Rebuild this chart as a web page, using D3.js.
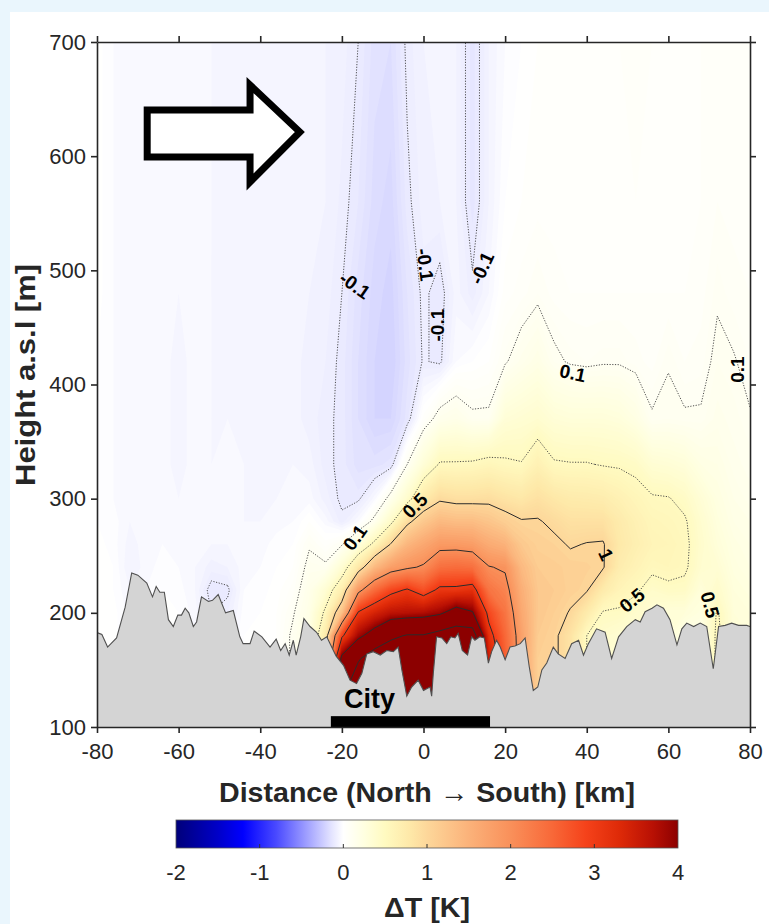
<!DOCTYPE html>
<html><head><meta charset="utf-8">
<script src="https://cdn.jsdelivr.net/npm/d3@7"></script>
<style>body{margin:0;background:#eaf6fd} svg{display:block}</style>
</head><body><svg id="c" width="769" height="924"></svg>
<script>
// ---------------- DATA ----------------
const distanceKm = [-80,-76,-72,-68,-64,-60,-56,-52,-48,-44,-40,-36,-32,-28,-24,-20,-16,-12,-8,-4,0,4,8,12,16,20,24,28,32,36,40,44,48,52,56,60,64,68,72,76,80];
const heightsM = [120,140,160,180,200,220,240,260,280,300,330,370,420,480,560,700];
// vertical profiles of ΔT [K], one per distance (values at heightsM)
const deltaTProfiles = [
 [0.02,0.02,0.02,0.02,0.02,0.02,0.01,0.01,0.00,0.00,0.00,0.00,0.00,0.01,0.01,0.01],   // -80
 [0.01,0.01,0.01,0.01,0.01,0.00,0.00,-0.01,-0.01,-0.02,-0.02,-0.02,-0.02,-0.02,-0.02,-0.02], // -76
 [-0.03,-0.03,-0.03,-0.03,-0.03,-0.04,-0.06,-0.05,-0.04,-0.04,-0.04,-0.04,-0.04,-0.04,-0.04,-0.03], // -72
 [-0.02,-0.02,-0.02,-0.02,-0.02,-0.02,-0.03,-0.03,-0.03,-0.03,-0.03,-0.03,-0.02,-0.02,-0.02,-0.02], // -68
 [0.00,0.00,0.00,0.00,0.00,0.00,-0.01,-0.02,-0.02,-0.03,-0.03,-0.03,-0.03,-0.03,-0.03,-0.03], // -64
 [0.00,0.00,0.00,0.00,0.00,-0.01,-0.02,-0.03,-0.04,-0.04,-0.05,-0.05,-0.05,-0.04,-0.04,-0.04], // -60
 [-0.02,-0.02,-0.02,-0.02,-0.03,-0.04,-0.04,-0.03,-0.03,-0.03,-0.03,-0.03,-0.03,-0.03,-0.03,-0.03], // -56
 [-0.10,-0.10,-0.10,-0.10,-0.10,-0.12,-0.07,-0.04,-0.03,-0.03,-0.04,-0.04,-0.04,-0.04,-0.04,-0.04], // -52
 [-0.06,-0.06,-0.06,-0.06,-0.08,-0.11,-0.06,-0.04,-0.03,-0.03,-0.03,-0.04,-0.04,-0.04,-0.04,-0.04], // -48
 [0.00,0.00,0.00,0.00,-0.01,-0.02,-0.03,-0.03,-0.04,-0.04,-0.04,-0.05,-0.05,-0.05,-0.05,-0.04], // -44
 [0.00,0.00,0.00,0.00,0.00,-0.01,-0.02,-0.03,-0.04,-0.05,-0.05,-0.06,-0.06,-0.06,-0.05,-0.05], // -40
 [0.02,0.02,0.02,0.02,0.02,0.01,0.00,-0.01,-0.03,-0.04,-0.05,-0.06,-0.06,-0.06,-0.06,-0.05], // -36
 [0.12,0.12,0.12,0.12,0.09,0.05,0.02,0.00,-0.02,-0.03,-0.04,-0.05,-0.05,-0.05,-0.05,-0.04], // -32
 [0.22,0.22,0.22,0.22,0.20,0.17,0.13,0.09,0.02,-0.03,-0.05,-0.07,-0.07,-0.06,-0.06,-0.05], // -28
 [0.90,0.90,0.90,0.75,0.55,0.35,0.12,0.03,-0.03,-0.07,-0.09,-0.09,-0.08,-0.07,-0.06,-0.06], // -24
 [4.50,4.50,4.20,2.90,1.30,0.70,0.35,0.09,-0.09,-0.11,-0.11,-0.11,-0.11,-0.10,-0.085,-0.07], // -20
 [5.50,5.50,4.90,3.85,3.05,1.85,0.78,0.28,-0.02,-0.11,-0.15,-0.16,-0.16,-0.15,-0.12,-0.10], // -16
 [5.50,5.50,5.50,4.30,3.40,2.45,1.40,0.56,0.14,-0.03,-0.15,-0.20,-0.20,-0.19,-0.17,-0.15], // -12
 [5.60,5.60,5.60,4.85,3.65,2.85,1.77,1.02,0.43,0.15,-0.13,-0.20,-0.22,-0.21,-0.19,-0.16], // -8
 [6.00,6.00,6.00,5.05,3.70,3.05,1.93,1.44,0.92,0.40,0.10,-0.13,-0.15,-0.14,-0.11,-0.09], // -4
 [6.00,6.00,6.00,5.05,3.75,2.75,2.05,1.65,1.20,0.75,0.32,0.03,-0.095,-0.09,-0.07,-0.06], // 0
 [5.50,5.50,5.50,5.30,3.90,3.10,2.40,1.85,1.40,0.95,0.52,0.15,-0.11,-0.12,-0.06,-0.05], // 4
 [5.50,5.50,5.50,5.50,4.30,3.10,2.45,1.85,1.35,0.90,0.52,0.18,-0.02,-0.05,-0.06,-0.06], // 8
 [5.50,5.50,5.50,5.50,4.05,3.20,2.40,1.80,1.35,0.90,0.53,0.12,0.00,-0.09,-0.13,-0.13], // 12
 [3.50,3.50,3.50,3.20,2.85,2.35,2.02,1.60,1.25,0.92,0.57,0.12,0.02,-0.04,-0.06,-0.06], // 16
 [2.60,2.60,2.60,2.50,2.35,2.15,1.95,1.50,1.12,0.85,0.53,0.32,0.09,0.03,0.00,-0.02], // 20
 [1.75,1.75,1.75,1.75,1.65,1.55,1.40,1.20,1.02,0.80,0.51,0.35,0.15,0.05,0.02,0.00], // 24
 [1.10,1.10,1.10,1.15,1.20,1.20,1.15,1.08,1.02,0.88,0.65,0.38,0.20,0.08,0.03,0.02], // 28
 [1.05,1.05,1.05,1.05,1.10,1.15,1.12,1.05,0.95,0.80,0.52,0.32,0.12,0.05,0.03,0.02], // 32
 [0.85,0.85,0.85,0.85,0.98,1.08,1.08,0.98,0.88,0.75,0.51,0.30,0.09,0.04,0.03,0.03], // 36
 [0.50,0.50,0.50,0.50,0.75,1.02,1.06,1.01,0.88,0.74,0.51,0.30,0.08,0.04,0.03,0.04], // 40
 [0.40,0.40,0.40,0.40,0.48,0.75,1.02,1.02,0.88,0.72,0.49,0.30,0.09,0.04,0.04,0.04], // 44
 [0.35,0.35,0.35,0.35,0.47,0.60,0.72,0.78,0.75,0.65,0.48,0.28,0.09,0.04,0.04,0.04], // 48
 [0.40,0.40,0.40,0.40,0.40,0.53,0.62,0.68,0.65,0.58,0.45,0.22,0.07,0.04,0.04,0.05], // 52
 [0.35,0.35,0.35,0.35,0.35,0.42,0.54,0.60,0.57,0.52,0.35,0.11,0.05,0.04,0.04,0.04], // 56
 [0.30,0.30,0.30,0.30,0.30,0.46,0.56,0.58,0.55,0.51,0.33,0.12,0.095,0.04,0.03,0.03], // 60
 [0.20,0.20,0.20,0.20,0.30,0.45,0.53,0.54,0.52,0.45,0.30,0.11,0.06,0.04,0.04,0.04], // 64
 [0.20,0.20,0.20,0.20,0.25,0.30,0.38,0.40,0.38,0.33,0.22,0.11,0.07,0.05,0.04,0.04], // 68
 [0.55,0.55,0.55,0.55,0.52,0.42,0.35,0.30,0.27,0.24,0.20,0.15,0.12,0.09,0.06,0.05], // 72
 [0.30,0.30,0.30,0.30,0.30,0.28,0.25,0.23,0.20,0.18,0.15,0.13,0.105,0.07,0.05,0.05], // 76
 [0.30,0.30,0.30,0.30,0.28,0.25,0.22,0.20,0.18,0.15,0.13,0.105,0.08,0.06,0.05,0.05]  // 80
];
const terrainKm = [-80,-79.5,-78.8,-77.4,-75.2,-73.1,-71.5,-70,-67.8,-66.4,-65.5,-64.6,-63.5,-62.5,-61.3,-60.2,-59.3,-58.4,-57.5,-56.4,-55.6,-54.4,-52.7,-51.7,-50.3,-48.5,-46.6,-45,-44.2,-42.5,-41.5,-39.6,-37.6,-36.1,-35,-33.9,-32.9,-31.9,-31.2,-30.1,-29.3,-27.8,-26.2,-25,-23.7,-22.5,-21.4,-19.6,-18,-16.4,-15.1,-13.9,-12.3,-10.6,-9,-7.4,-6.2,-5.3,-4.1,-2.9,-1.3,0,1.6,2.0,2.4,3.2,4.5,5.7,6.7,7.7,8.5,9.5,10.8,11.8,12.6,13.8,14.9,15.9,16.7,17.9,18.8,20,21.2,22.4,23.7,24.9,25.9,26.9,28,29,30.2,31.8,33,34.7,36.3,38,39.2,40.4,42.4,44.5,46.1,47.8,49.8,51.9,53.1,54.3,56,57.2,58.8,60.4,62.1,63.3,64.5,66.2,67.8,69.4,71,72.3,73.9,75.5,77.2,79.2,80];
const terrainM = [183,182,181,170,178,205,235,233,226,214,223,218,218,194,188,198,198,204,200,188,192,214,210,211,216,200,202,179,173,173,184,179,170,177,167,173,163,176,163,179,195,188,183,176,179,170,162,154,141,138,147,164,166,163,167,166,170,150,127,135,141,132,135,127,147,179,178,173,179,178,182,167,163,179,176,179,178,156,166,176,170,159,170,171,173,178,153,132,135,150,156,170,164,160,173,176,163,173,186,183,160,179,188,194,192,201,204,207,204,194,172,186,191,188,191,188,151,188,189,191,189,189,188];
const cmapValues = [-2,-1.5,-1.2,-0.8,-0.4,-0.15,0,0.25,0.5,0.8,1.0,1.5,2.0,2.5,2.9,3.3,3.7,4];
const cmapColors = ["#00007a","#0000c8","#0000ff","#4a4aff","#a8a8ff","#e2e2ff","#ffffff","#ffffe0","#fffac0","#fee8a8","#fdd79a","#fbb27a","#f9905a","#f86838","#f5421a","#de2a08","#b81004","#8c0000"];
const dottedLevels = [-0.1, 0.1, 0.5];
const solidLevels = [1, 2, 3, 4, 5];
const xTicks = [-80,-60,-40,-20,0,20,40,60,80];
const yTicks = [100,200,300,400,500,600,700];
const cbTicks = [-2,-1,0,1,2,3,4];
const contourLabels = [
 {km:-16.8, m:487, text:"-0.1", angle:35},
 {km:0.4, m:505, text:"-0.1", angle:82},
 {km:3.3, m:452, text:"-0.1", angle:-90},
 {km:14.3, m:502, text:"-0.1", angle:-65},
 {km:-16.8, m:266, text:"0.1", angle:-55},
 {km:-2.1, m:294, text:"0.5", angle:-45},
 {km:36.6, m:410, text:"0.1", angle:12},
 {km:76.8, m:413, text:"0.1", angle:-90},
 {km:44.7, m:251, text:"1", angle:65},
 {km:51.1, m:211, text:"0.5", angle:-40},
 {km:70.2, m:207, text:"0.5", angle:75}
];
const arrowKm = [-67.7,-42.5,-42.5,-30.3,-42.5,-42.5,-67.7];
const arrowM  = [640.4,640.4,662.3,621.2,577.4,599.3,599.3];
const cityKm = [-22.7, 16.3];

// ---------------- DRAW ----------------
const W=769,H=924;
const FONT='"Liberation Sans", Arial, Helvetica, sans-serif';
const svg=d3.select('#c');
svg.append('rect').attr('width',W).attr('height',H).attr('fill','#eaf6fd');
svg.append('rect').attr('x',10).attr('y',12).attr('width',W-10).attr('height',H-12).attr('fill','#ffffff');

const m={l:97,r:750,t:42,b:727};
const x=d3.scaleLinear().domain([-80,80]).range([m.l,m.r]);
const y=d3.scaleLinear().domain([100,700]).range([m.b,m.t]);
const color=d3.scaleLinear().domain(cmapValues).range(cmapColors).clamp(true);

const nx=distanceKm.length, ny=heightsM.length;
const values=new Array(nx*ny);
for(let j=0;j<ny;j++) for(let i=0;i<nx;i++) values[j*nx+i]=deltaTProfiles[i][j];
const colIdx=d3.scaleLinear().domain(d3.range(nx)).range(distanceKm);
const rowIdx=d3.scaleLinear().domain(d3.range(ny)).range(heightsM);
const proj=d3.geoTransform({point(px,py){this.stream.point(x(colIdx(px-0.5)), y(rowIdx(py-0.5)));}});
const path=d3.geoPath(proj);

const defs=svg.append('defs');
defs.append('clipPath').attr('id','clip').append('rect')
  .attr('x',m.l).attr('y',m.t).attr('width',m.r-m.l).attr('height',m.b-m.t);

const plot=svg.append('g').attr('clip-path','url(#clip)');
const bandT=[...d3.range(-0.3,1,0.02), ...d3.range(1,4.25,0.05)];
plot.append('rect').attr('x',m.l).attr('y',m.t).attr('width',m.r-m.l).attr('height',m.b-m.t).attr('fill',color(-0.3));
const bands=d3.contours().size([nx,ny]).thresholds(bandT)(values);
plot.selectAll('path.band').data(bands).join('path').attr('class','band')
  .attr('d',path)
  .attr('fill',(d,i)=>color(i+1<bandT.length ? (bandT[i]+bandT[i+1])/2 : bandT[i]+0.05));

const lineData=d3.contours().size([nx,ny]).thresholds([...dottedLevels,...solidLevels])(values);
plot.selectAll('path.cl').data(lineData).join('path').attr('class','cl')
  .attr('d',path).attr('fill','none')
  .attr('stroke',d=>d.value<1?'#3c3c3c':'#2b2b2b')
  .attr('stroke-width',d=>d.value<1?0.9:1.0)
  .attr('stroke-dasharray',d=>d.value<1?'1.2,1.5':null);

// terrain
const terr=terrainKm.map((k,i)=>[k,terrainM[i]]);
const line=d3.line().x(d=>x(d[0])).y(d=>y(d[1]));
plot.append('path').datum([[-80,100],...terr,[80,100]]).attr('d',line).attr('fill','#d4d4d4');
plot.append('path').datum(terr).attr('d',line).attr('fill','none').attr('stroke','#505050').attr('stroke-width',1.1);

// city bar
plot.append('rect').attr('x',x(cityKm[0])).attr('width',x(cityKm[1])-x(cityKm[0]))
  .attr('y',y(109.5)).attr('height',y(100)-y(109.5)).attr('fill','#000');
svg.append('text').attr('x',x(-13.2)).attr('y',708).attr('text-anchor','middle')
  .attr('font-family',FONT).attr('font-weight','bold').attr('font-size',27).text('City');

// contour labels
svg.selectAll('text.clab').data(contourLabels).join('text').attr('class','clab')
  .attr('transform',d=>`translate(${x(d.km)},${y(d.m)}) rotate(${d.angle})`)
  .attr('text-anchor','middle').attr('dy','0.35em')
  .attr('font-family',FONT).attr('font-weight','bold').attr('font-size',19)
  .text(d=>d.text);

// arrow
svg.append('path').datum(arrowKm.map((k,i)=>[k,arrowM[i]]))
  .attr('d',d=>line(d)+'Z').attr('fill','#fff').attr('stroke','#000')
  .attr('stroke-width',7).attr('stroke-linejoin','miter');

// axes
function styleAxis(g){
  g.selectAll('.domain').attr('stroke','#262626').attr('stroke-width',1.6);
  g.selectAll('.tick line').attr('stroke','#262626').attr('stroke-width',1.6);
  g.selectAll('.tick text').attr('fill','#262626').attr('font-family',FONT).attr('font-size',22);
}
const fmt=d=>String(d);
svg.append('g').attr('transform',`translate(0,${m.b})`)
  .call(d3.axisBottom(x).tickValues(xTicks).tickSize(6).tickSizeOuter(0).tickPadding(10).tickFormat(fmt)).call(styleAxis);
svg.append('g').attr('transform',`translate(0,${m.t})`)
  .call(d3.axisTop(x).tickValues(xTicks).tickSize(6).tickSizeOuter(0).tickFormat(()=>'')).call(styleAxis);
svg.append('g').attr('transform',`translate(${m.l},0)`)
  .call(d3.axisLeft(y).tickValues(yTicks).tickSize(6).tickSizeOuter(0).tickPadding(5).tickFormat(fmt)).call(styleAxis);
svg.append('g').attr('transform',`translate(${m.r},0)`)
  .call(d3.axisRight(y).tickValues(yTicks).tickSize(6).tickSizeOuter(0).tickFormat(()=>'')).call(styleAxis);

svg.append('text').attr('x',427).attr('y',802).attr('text-anchor','middle')
  .attr('font-family',FONT).attr('font-weight','bold').attr('font-size',28).attr('fill','#262626')
  .attr('textLength',416).attr('lengthAdjust','spacingAndGlyphs')
  .text('Distance (North \u2192 South) [km]');
svg.append('text').attr('transform','translate(35,375) rotate(-90)').attr('text-anchor','middle')
  .attr('font-family',FONT).attr('font-weight','bold').attr('font-size',28).attr('fill','#262626')
  .attr('textLength',222).attr('lengthAdjust','spacingAndGlyphs')
  .text('Height a.s.l [m]');

// colorbar
const cb={l:176,r:678,t:820,b:848};
const cx=d3.scaleLinear().domain([-2,4]).range([cb.l,cb.r]);
const grad=defs.append('linearGradient').attr('id','cbg').attr('x1','0%').attr('x2','100%');
cmapValues.forEach((v,i)=>grad.append('stop').attr('offset',((v+2)/6*100)+'%').attr('stop-color',cmapColors[i]));
svg.append('rect').attr('x',cb.l).attr('y',cb.t).attr('width',cb.r-cb.l).attr('height',cb.b-cb.t)
  .attr('fill','url(#cbg)').attr('stroke','#555').attr('stroke-width',0.8);
svg.selectAll('line.cbt').data(cbTicks.slice(1,-1)).join('line').attr('class','cbt')
  .attr('x1',d=>cx(d)).attr('x2',d=>cx(d)).attr('y1',cb.b).attr('y2',cb.b-4)
  .attr('stroke','#333').attr('stroke-width',1);
svg.selectAll('text.cbl').data(cbTicks).join('text').attr('class','cbl')
  .attr('x',d=>cx(d)).attr('y',880).attr('text-anchor','middle')
  .attr('font-family',FONT).attr('font-size',22).attr('fill','#262626').text(d=>String(d));
svg.append('text').attr('x',427).attr('y',917).attr('text-anchor','middle')
  .attr('font-family',FONT).attr('font-weight','bold').attr('font-size',28).attr('fill','#262626')
  .attr('textLength',86).attr('lengthAdjust','spacingAndGlyphs')
  .text('\u0394T [K]');
</script></body></html>
